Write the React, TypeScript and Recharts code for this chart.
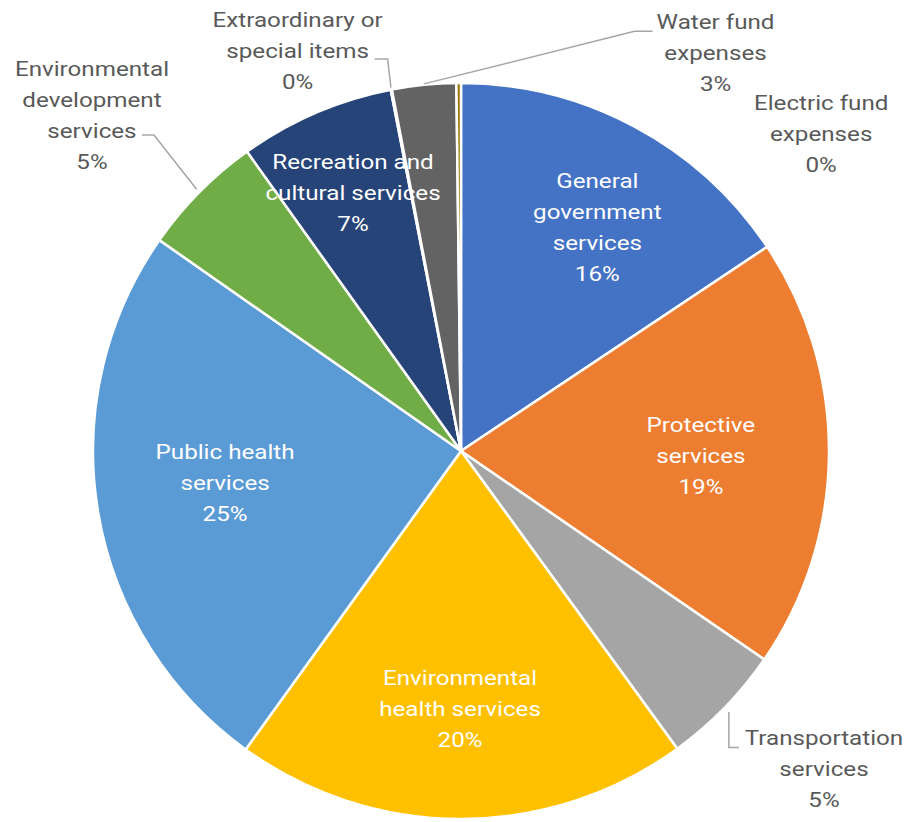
import React from "react";
import { PieChart, Pie, Cell } from "recharts";

const categories = [
  "General government services",
  "Protective services",
  "Transportation services",
  "Environmental health services",
  "Public health services",
  "Environmental development services",
  "Recreation and cultural services",
  "Extraordinary or special items",
  "Water fund expenses",
  "Electric fund expenses",
];

const values = [15.6, 18.9, 5.4, 19.9, 24.7, 5.4, 6.8, 0.05, 2.8, 0.2];

const labelLines = [
  ["General", "government", "services"],
  ["Protective", "services"],
  ["Transportation", "services"],
  ["Environmental", "health services"],
  ["Public health", "services"],
  ["Environmental", "development", "services"],
  ["Recreation and", "cultural services"],
  ["Extraordinary or", "special items"],
  ["Water fund", "expenses"],
  ["Electric fund", "expenses"],
];

const colors = [
  "#4472C4",
  "#ED7D31",
  "#A5A5A5",
  "#FFC000",
  "#5B9BD5",
  "#70AD47",
  "#264478",
  "#9E480E",
  "#636363",
  "#997300",
];

// label placement: angle offset from slice mid (deg, clockwise), radius factor, inside flag
const labelLayout = [
  { da: 3.2, rf: 0.712, inside: true },
  { da: 0.7, rf: 0.652, inside: true },
  { da: -3, rf: 1.312, inside: false },
  { da: 0.3, rf: 0.7, inside: true },
  { da: 1.9, rf: 0.647, inside: true },
  { da: -2.4, rf: 1.356, inside: false },
  { da: 0.6, rf: 0.761, inside: true },
  { da: -11.3, rf: 1.174, inside: false },
  { da: 38.4, rf: 1.283, inside: false },
  { da: 49, rf: 1.304, inside: false },
];

const data = categories.map((name, i) => ({ name, value: values[i] }));

const RAD = Math.PI / 180;
const LH = 31;
const SX = 1.21;

const renderLabel = (props: any) => {
  const { cx, cy, midAngle, outerRadius, percent, index } = props;
  const L = labelLayout[index];
  const cw = 90 - midAngle;
  const a = (cw + L.da) * RAD;
  const d = outerRadius * L.rf;
  const x = cx + d * Math.sin(a);
  const y = cy - d * Math.cos(a);
  const lines = [...labelLines[index], `${Math.round(percent * 100)}%`];
  const fill = L.inside ? "#ffffff" : "#595959";

  const m = cw * RAD;
  const edge = (extra: number) => ({
    x: cx + (outerRadius + extra) * Math.sin(m),
    y: cy - (outerRadius + extra) * Math.cos(m),
  });

  let leader: React.ReactNode = null;
  if (index === 2) {
    const s = edge(6);
    leader = (
      <polyline
        points={`${s.x},${s.y} ${s.x},${y - 22} ${x - 85},${y - 22}`}
        fill="none"
        stroke="#a6a6a6"
        strokeWidth={1.5}
      />
    );
  } else if (index === 5) {
    const s = edge(4);
    leader = (
      <polyline
        points={`${s.x},${s.y} ${x + 62},${y + 20} ${x + 50},${y + 20}`}
        fill="none"
        stroke="#a6a6a6"
        strokeWidth={1.5}
      />
    );
  } else if (index === 7) {
    const s = edge(2);
    leader = (
      <polyline
        points={`${s.x},${s.y} ${x + 90},${y + 8} ${x + 77},${y + 8}`}
        fill="none"
        stroke="#a6a6a6"
        strokeWidth={1.5}
      />
    );
  } else if (index === 8) {
    const s = edge(1);
    leader = (
      <polyline
        points={`${s.x},${s.y} ${x - 81},${y - 22} ${x - 63},${y - 22}`}
        fill="none"
        stroke="#a6a6a6"
        strokeWidth={1.5}
      />
    );
  }

  return (
    <g key={`lbl-${index}`}>
      {leader}
      <text
        transform={`translate(${x} ${y}) scale(${SX} 1)`}
        textAnchor="middle"
        fill={fill}
        fontSize={20}
        fontFamily="Roboto, 'Noto Sans', sans-serif"
      >
        {lines.map((t, i) => (
          <tspan key={i} x={0} y={i * LH - ((lines.length - 1) * LH) / 2 + 7}>
            {t}
          </tspan>
        ))}
      </text>
    </g>
  );
};

export default function App() {
  return (
    <div
      style={{
        position: "absolute",
        left: 0,
        top: 0,
        width: 912,
        height: 822,
        background: "#ffffff",
      }}
    >
      <PieChart width={912} height={822} margin={{ top: 0, right: 0, bottom: 0, left: 0 }}>
        <Pie
          data={data}
          dataKey="value"
          nameKey="name"
          cx={461}
          cy={451}
          outerRadius={368}
          startAngle={90}
          endAngle={-270}
          stroke="#ffffff"
          strokeWidth={2.5}
          isAnimationActive={false}
          label={renderLabel}
          labelLine={false}
        >
          {data.map((d, i) => (
            <Cell key={d.name} fill={colors[i]} />
          ))}
        </Pie>
      </PieChart>
    </div>
  );
}
